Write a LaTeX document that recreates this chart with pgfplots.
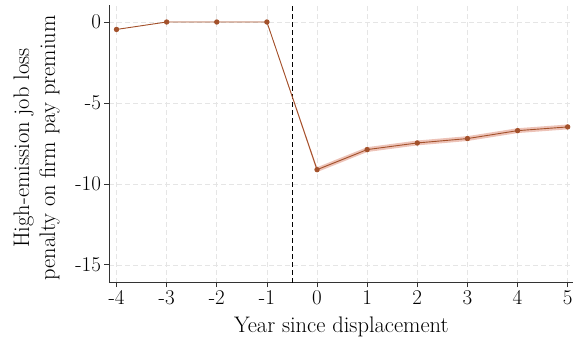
\documentclass[border=0pt]{standalone}
\usepackage{pgfplots}
\pgfplotsset{compat=1.18}
\usepgfplotslibrary{fillbetween}
\definecolor{line}{HTML}{A3512B}
\definecolor{band}{HTML}{E8B4A6}
\begin{document}
\begin{tikzpicture}
\begin{axis}[
  scale only axis, width=463.7pt, height=277.7pt,
  xmin=-4.15, xmax=5.1, ymin=-16.1, ymax=1.05,
  axis x line*=bottom, axis y line*=left,
  axis line style={black!80, line width=0.8pt},
  xtick={-4,-3,...,5},
  xticklabels={-4,-3,-2,-1,0,1,2,3,4,5},
  ytick={-15,-10,-5,0},
  yticklabels={-15,-10,-5,0},
  tick align=outside, tick style={black!80, line width=0.8pt}, major tick length=4.5pt,
  grid=major, major grid style={black!10, dash pattern=on 5pt off 3pt, line width=0.7pt},
  ticklabel style={font=\fontsize{21}{24}\selectfont},
  xlabel={Year since displacement}, ylabel={High-emission job loss\\penalty on firm pay premium},
  label style={font=\fontsize{22.5}{26}\selectfont, align=center, inner sep=0pt},
  ylabel style={at={(axis description cs:-0.1057,0.485)}, anchor=south, rotate=0},
  xlabel style={at={(axis description cs:0.501,-0.1235)}, anchor=north},
  clip=false,
]
\addplot[name path=up, draw=none, forget plot] coordinates {(-4,-0.46) (-3,0) (-2,0) (-1,0) (0,-8.97) (1,-7.73) (2,-7.32) (3,-7.05) (4,-6.56) (5,-6.33)};
\addplot[name path=lo, draw=none, forget plot] coordinates {(-4,-0.46) (-3,0) (-2,0) (-1,0) (0,-9.27) (1,-8.03) (2,-7.62) (3,-7.35) (4,-6.86) (5,-6.63)};
\addplot[band, opacity=0.8] fill between[of=up and lo];
\draw[black, dash pattern=on 5pt off 3pt, line width=0.9pt] (axis cs:-0.5,-16.1) -- (axis cs:-0.5,1.05);
\addplot[line, line width=0.9pt, mark=*, mark size=2.2pt, mark options={solid}] coordinates {(-4,-0.46) (-3,0) (-2,0) (-1,0) (0,-9.12) (1,-7.88) (2,-7.47) (3,-7.2) (4,-6.71) (5,-6.48)};
\end{axis}
\pgfresetboundingbox
\useasboundingbox (current axis.south west) ++(-109pt,-59.3pt) rectangle ++(582pt,342pt);
\end{tikzpicture}
\end{document}
